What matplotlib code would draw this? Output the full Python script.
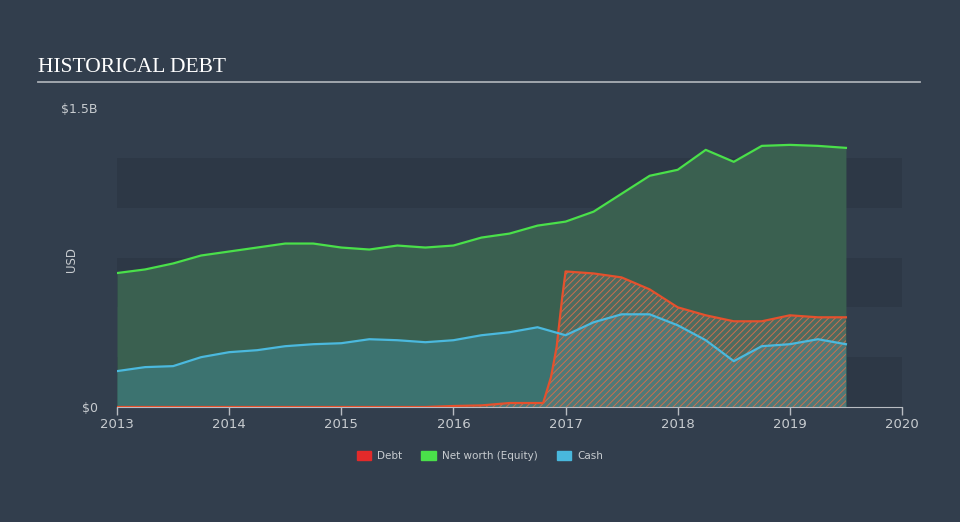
import numpy as np
import matplotlib
matplotlib.use("Agg")
import matplotlib.pyplot as plt

# values in billions USD
nw_x = [2013.0, 2013.25, 2013.5, 2013.75, 2014.0, 2014.25, 2014.5, 2014.75, 2015.0, 2015.25,
        2015.5, 2015.75, 2016.0, 2016.25, 2016.5, 2016.75, 2017.0, 2017.25, 2017.5, 2017.75,
        2018.0, 2018.25, 2018.5, 2018.75, 2019.0, 2019.25, 2019.5]
networth = [0.672, 0.69, 0.72, 0.76, 0.78, 0.80, 0.82, 0.82, 0.80, 0.79,
            0.81, 0.80, 0.81, 0.85, 0.87, 0.91, 0.93, 0.98, 1.07, 1.16,
            1.19, 1.29, 1.23, 1.31, 1.315, 1.31, 1.30]
cash = [0.18, 0.20, 0.205, 0.25, 0.275, 0.285, 0.305, 0.315, 0.32, 0.34,
        0.335, 0.325, 0.335, 0.36, 0.375, 0.40, 0.36, 0.425, 0.465, 0.465,
        0.41, 0.335, 0.23, 0.305, 0.315, 0.34, 0.315]

debt_x = [2013.0, 2015.75, 2016.0, 2016.25, 2016.5, 2016.8, 2016.87, 2016.92, 2016.97, 2017.0,
          2017.25, 2017.5, 2017.75, 2018.0, 2018.25, 2018.5, 2018.75, 2019.0, 2019.25, 2019.5]
debt = [0.0, 0.0, 0.005, 0.008, 0.02, 0.02, 0.15, 0.30, 0.55, 0.68,
        0.67, 0.65, 0.59, 0.50, 0.46, 0.43, 0.43, 0.46, 0.45, 0.45]

years = [2013, 2014, 2015, 2016, 2017, 2018, 2019, 2020]

bg = "#323e4d"
band = "#2d3846"
txt = "#c8ccd0"

plt.rcParams["hatch.linewidth"] = 0.7

fig = plt.figure(figsize=(9.6, 5.22), dpi=100, facecolor=bg)
ax = fig.add_axes([117 / 960, 1 - 407 / 522, (902 - 117) / 960, (407 - 108) / 522])
ax.set_facecolor(bg)

for lo in [0.0, 0.5, 1.0]:
    ax.axhspan(lo, lo + 0.25, color=band, zorder=0, lw=0)

ax.fill_between(nw_x, 0, networth, color="#3a6050", lw=0, zorder=1)
ax.fill_between(nw_x, 0, cash, color="#3c7370", lw=0, zorder=2)
ax.fill_between(debt_x, 0, debt, facecolor=(0.55, 0.55, 0.55, 0.25),
                edgecolor="#c8704f", hatch="/////", lw=0, zorder=3)

ax.plot(nw_x, networth, color="#4ae04a", lw=1.6, zorder=5)
ax.plot(debt_x, debt, color="#e5512d", lw=1.6, zorder=5)
ax.plot(nw_x, cash, color="#4bb9de", lw=1.6, zorder=6)

ax.set_xlim(2013, 2020)
ax.set_ylim(0, 1.5)
ax.set_xticks(years)
ax.set_xticklabels([str(y) for y in years], color=txt, fontsize=9.5)
ax.set_yticks([0, 1.5])
ax.set_yticklabels(["$0", "$1.5B"], color=txt, fontsize=9)
ax.tick_params(axis="x", colors="#b8bcc2", length=6, width=1, pad=2, labelcolor=txt)
ax.tick_params(axis="y", length=0, pad=14)
for s in ["top", "right", "left"]:
    ax.spines[s].set_visible(False)
ax.spines["bottom"].set_color("#b8bcc2")
fig.text(72 / 960, 1 - 260 / 522, "USD", color=txt, fontsize=8.5, rotation=90,
         ha="center", va="center")

fig.text(38 / 960, 1 - 67 / 522, "HISTORICAL DEBT", color="white", fontsize=15.5,
         family="Liberation Serif", va="center", ha="left")
fig.add_artist(plt.Line2D([38 / 960, 920 / 960], [1 - 82 / 522, 1 - 82 / 522],
                          color="#a9aeb5", lw=1.3))

handles = [plt.Rectangle((0, 0), 1, 1, color=c) for c in ["#e32a2a", "#4ae04a", "#49b8dd"]]
fig.legend(handles, ["Debt", "Net worth (Equity)", "Cash"], loc="center",
           bbox_to_anchor=(0.5, 1 - 456 / 522), ncol=3, frameon=False,
           fontsize=7.5, labelcolor=txt, handlelength=1.4, handleheight=1.0,
           columnspacing=1.8, handletextpad=0.6)

fig.savefig("out.png", dpi=100, facecolor=bg)
